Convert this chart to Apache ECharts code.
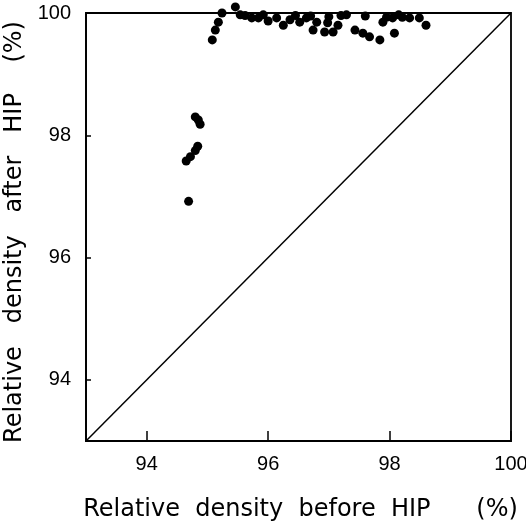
<!DOCTYPE html>
<html><head><meta charset="utf-8">
<script src="https://cdn.jsdelivr.net/npm/echarts@6/dist/echarts.min.js"></script>
<style>html,body{margin:0;padding:0;background:#fff}#c{width:526px;height:530px}</style>
</head><body><div id="c"></div>
<script>
const xTicks = [94, 96, 98, 100];
const yTicks = [94, 96, 98, 100];
const beforeHIP = [94.69, 94.65, 94.72, 94.80, 94.84, 94.80, 94.85, 94.88,
  95.08, 95.13, 95.18, 95.24, 95.46, 95.54, 95.62, 95.73, 95.84, 95.92, 96.00, 96.14,
  96.25, 96.36, 96.52, 96.63, 96.74, 96.80, 96.93, 96.98, 97.07, 97.15, 97.29, 97.43,
  97.56, 97.67, 97.84, 97.89, 97.95, 98.05, 98.08, 98.21, 98.33, 98.49, 98.60,
  96.45, 96.70, 97.00, 97.20, 97.60, 98.15];
const afterHIP = [96.92, 97.58, 97.65, 97.75, 97.82, 98.30, 98.25, 98.18,
  99.56, 99.72, 99.85, 100.00, 100.10, 99.97, 99.96, 99.92, 99.92, 99.97, 99.87, 99.92,
  99.80, 99.89, 99.85, 99.92, 99.72, 99.85, 99.69, 99.84, 99.69, 99.80, 99.97, 99.72,
  99.67, 99.61, 99.56, 99.85, 99.93, 99.92, 99.67, 99.93, 99.92, 99.92, 99.80,
  99.96, 99.95, 99.94, 99.96, 99.95, 99.97];
const diagX = [93, 100];
const diagY = [93, 100];

const chart = echarts.init(document.getElementById('c'));
const titleFont = 'DejaVu Sans, sans-serif';
const tickFont = '"Liberation Sans", Arial, sans-serif';
chart.setOption({
  animation: false,
  grid: {left: 86, right: 15, top: 13, bottom: 89, show: true, borderColor: '#000', borderWidth: 1.8,
    backgroundColor: 'transparent', containLabel: false, outerBoundsMode: 'none'},
  xAxis: {
    type: 'value', min: 93, max: 100, interval: 1,
    name: 'Relative  density  before  HIP      (%)', nameLocation: 'middle', nameGap: 57,
    nameTextStyle: {fontFamily: titleFont, fontSize: 24, color: '#000', padding: [0, 0, 0, 4]},
    axisLine: {show: true, lineStyle: {color: '#000', width: 1.8}},
    axisTick: {show: true, inside: true, length: 10, lineStyle: {color: '#000', width: 1.5},
      customValues: xTicks},
    axisLabel: {fontFamily: tickFont, fontSize: 20, color: '#000', margin: 13,
      customValues: xTicks},
    splitLine: {show: false}
  },
  yAxis: {
    type: 'value', min: 93, max: 100, interval: 1,
    name: 'Relative   density   after   HIP    (%)', nameLocation: 'middle', nameGap: 58,
    nameTextStyle: {fontFamily: titleFont, fontSize: 24, color: '#000', padding: [0, 10, 0, 0]},
    axisLine: {show: true, lineStyle: {color: '#000', width: 1.8}},
    axisTick: {show: true, inside: true, length: 5, lineStyle: {color: '#000', width: 1.5},
      customValues: yTicks},
    axisLabel: {fontFamily: tickFont, fontSize: 20, color: '#000', margin: 15,
      customValues: yTicks},
    splitLine: {show: false}
  },
  series: [
    {type: 'line', data: diagX.map((v, i) => [v, diagY[i]]), symbol: 'none',
      lineStyle: {color: '#000', width: 1.5}, silent: true},
    {type: 'scatter', data: beforeHIP.map((v, i) => [v, afterHIP[i]]), symbolSize: 9,
      itemStyle: {color: '#000', opacity: 1}, clip: false}
  ]
});
</script></body></html>
